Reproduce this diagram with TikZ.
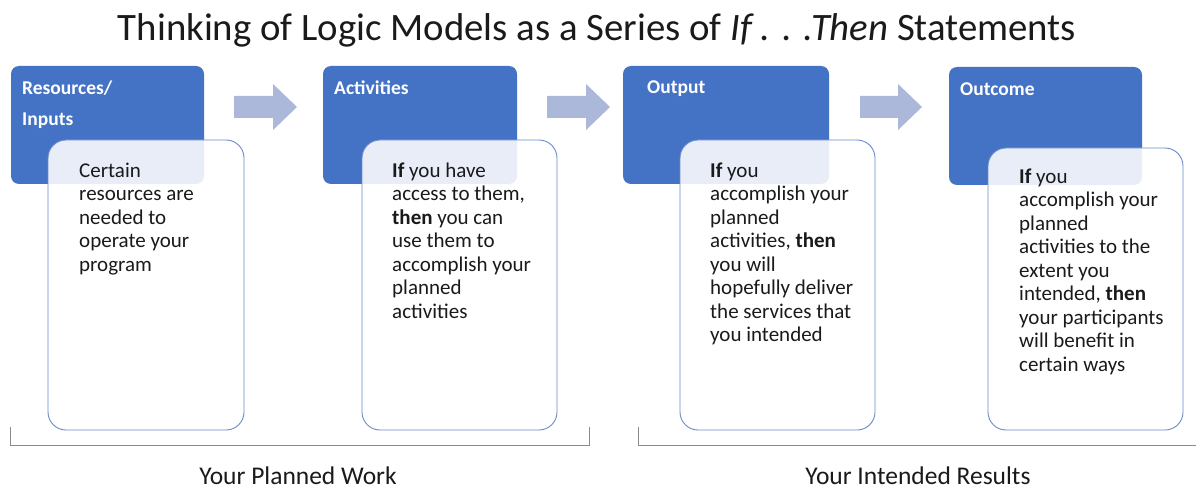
\documentclass[tikz,border=0pt]{standalone}
\usepackage{fontspec}
\setmainfont{Carlito}
\definecolor{hdrblue}{HTML}{4472C4}
\definecolor{arrowblue}{HTML}{ABB8DA}
\definecolor{edgeblue}{HTML}{6A8CCB}
\definecolor{brk}{HTML}{8A8A8A}
\definecolor{txt}{HTML}{1A1A1A}
\begin{document}
\begin{tikzpicture}[x=1pt,y=-1pt,
  hdr/.style={fill=hdrblue, draw=none, rounded corners=8pt},
  card/.style={fill=white, fill opacity=0.88, draw=edgeblue, line width=0.9pt, rounded corners=18pt},
  hdrtext/.style={anchor=north west, inner sep=0pt, text=white, align=left,
     font=\fontsize{19.5}{31}\selectfont\bfseries},
  bodytext/.style={anchor=north west, inner sep=0pt, text=txt, align=left,
     font=\fontsize{21}{23.5}\selectfont},
  blockarrow/.style={fill=arrowblue, draw=none},
  bracket/.style={draw=brk, line width=0.9pt},
  caption/.style={inner sep=0pt, text=txt, font=\fontsize{25.5}{28}\selectfont}
]
\useasboundingbox (0,0) rectangle (1196,489);
\fill[white] (0,0) rectangle (1196,489);

% title
\node[inner sep=0pt, text=txt, font=\fontsize{38.8}{42}\selectfont] (title) at (597,30)
  {Thinking of Logic Models as a Series of \textit{If . . .Then} Statements};

% header boxes
\fill[hdr] (11,66) rectangle (204,184);
\fill[hdr] (323,66) rectangle (517,184);
\fill[hdr] (623,66) rectangle (829,184);
\fill[hdr] (949,67) rectangle (1142,185);

\node[hdrtext] (h1) at (22,80.5) {Resources/\\Inputs};
\node[hdrtext] (h2) at (334,80.5) {Activities};
\node[hdrtext] (h3) at (647,80.5) {Output};
\node[hdrtext] (h4) at (960,82.5) {Outcome};

% arrows
\fill[blockarrow] (234,96) -- (273,96) -- (273,84) -- (297,107) -- (273,130) -- (273,118) -- (234,118) -- cycle;
\fill[blockarrow] (547,96) -- (586,96) -- (586,84) -- (610,107) -- (586,130) -- (586,118) -- (547,118) -- cycle;
\fill[blockarrow] (860,96) -- (898,96) -- (898,84) -- (922,107) -- (898,130) -- (898,118) -- (860,118) -- cycle;

% cards
\draw[card] (48,140) rectangle (244,430);
\draw[card] (362,140) rectangle (557,430);
\draw[card] (680,140) rectangle (875,430);
\draw[card] (988,148) rectangle (1183,430);

\node[bodytext] (b1) at (79,162.5) {Certain\\resources are\\needed to\\operate your\\program};
\node[bodytext] (b2) at (392,162.5) {\textbf{If} you have\\access to them,\\\textbf{then} you can\\use them to\\accomplish your\\planned\\activities};
\node[bodytext] (b3) at (710,162.5) {\textbf{If} you\\accomplish your\\planned\\activities, \textbf{then}\\you will\\hopefully deliver\\the services that\\you intended};
\node[bodytext] (b4) at (1019,168.5) {\textbf{If} you\\accomplish your\\planned\\activities to the\\extent you\\intended, \textbf{then}\\your participants\\will benefit in\\certain ways};

% brackets
\draw[bracket] (10,427) -- (10,445) -- (589,445) -- (589,427);
\draw[bracket] (638,427) -- (638,445) -- (1196,445);

\node[caption] (c1) at (298,476) {Your Planned Work};
\node[caption] (c2) at (918,476) {Your Intended Results};
\end{tikzpicture}
\end{document}
